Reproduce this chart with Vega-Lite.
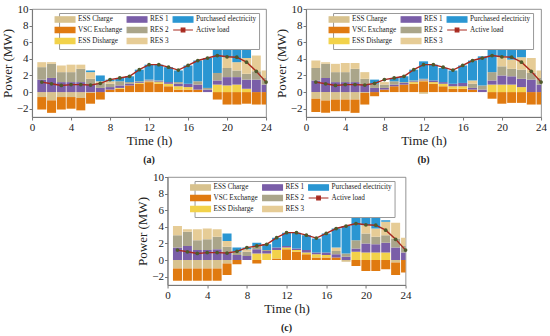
{
  "$schema": "https://vega.github.io/schema/vega-lite/v6.json",
  "padding": {"left": 0, "top": 2, "right": 0, "bottom": 2},
  "background": "white",
  "config": {
    "font": "Liberation Serif",
    "view": {"stroke": "#777", "strokeWidth": 0.8},
    "axis": {"labelFont": "Liberation Serif", "labelFontSize": 11, "titleFont": "Liberation Serif", "titleFontSize": 13, "titleFontWeight": "normal", "labelColor": "#222", "titleColor": "#222", "domainColor": "#777", "tickColor": "#777", "tickSize": 3, "labelPadding": 1, "titlePadding": 2, "grid": false, "labelOverlap": false, "labelFlush": false, "labelBound": false},
    "axisX": {"labelOverlap": false},
    "axisY": {"labelOverlap": false},
    "title": {"font": "Liberation Serif", "fontSize": 10, "fontWeight": "bold", "color": "#222"},
    "legend": {"orient": "none", "legendX": 27, "legendY": 4, "direction": "horizontal", "columns": 3, "gridAlign": "each", "fillColor": "white", "strokeColor": "#999", "padding": 2, "labelFont": "Liberation Serif", "labelFontSize": 7.2, "labelColor": "#222", "symbolSize": 36, "rowPadding": -1, "columnPadding": 1, "labelOffset": 9, "title": null}
  },
  "datasets": {
    "d": [
      {"p":"a","h":1,"ESS Charge":-0.6,"VSC Exchange":-1.5,"ESS Disharge":0,"RES 1":1.5,"RES 2":1.5,"RES 3":0.6,"Purchased electricity":0,"L":1.2},
      {"p":"a","h":2,"ESS Charge":-1.0,"VSC Exchange":-1.5,"ESS Disharge":0,"RES 1":1.7,"RES 2":1.7,"RES 3":0.2,"Purchased electricity":0,"L":1.0},
      {"p":"a","h":3,"ESS Charge":-0.6,"VSC Exchange":-1.5,"ESS Disharge":0,"RES 1":1.2,"RES 2":1.2,"RES 3":0.8,"Purchased electricity":0,"L":0.8},
      {"p":"a","h":4,"ESS Charge":-0.6,"VSC Exchange":-1.4,"ESS Disharge":0,"RES 1":1.2,"RES 2":1.2,"RES 3":0.9,"Purchased electricity":0,"L":0.9},
      {"p":"a","h":5,"ESS Charge":-0.7,"VSC Exchange":-1.5,"ESS Disharge":0,"RES 1":1.2,"RES 2":1.6,"RES 3":0.5,"Purchased electricity":0,"L":0.9},
      {"p":"a","h":6,"ESS Charge":-0.1,"VSC Exchange":-1.3,"ESS Disharge":0,"RES 1":0.9,"RES 2":0.7,"RES 3":0.8,"Purchased electricity":0.2,"L":0.85},
      {"p":"a","h":7,"ESS Charge":0,"VSC Exchange":-0.9,"ESS Disharge":0,"RES 1":0.5,"RES 2":0.6,"RES 3":0.2,"Purchased electricity":0.7,"L":1.05},
      {"p":"a","h":8,"ESS Charge":0,"VSC Exchange":0.3,"ESS Disharge":0,"RES 1":0.3,"RES 2":0.4,"RES 3":0.3,"Purchased electricity":0.2,"L":1.5},
      {"p":"a","h":9,"ESS Charge":0,"VSC Exchange":0.4,"ESS Disharge":0.1,"RES 1":0.3,"RES 2":0.5,"RES 3":0,"Purchased electricity":0.4,"L":1.7},
      {"p":"a","h":10,"ESS Charge":0,"VSC Exchange":0.8,"ESS Disharge":0,"RES 1":0.2,"RES 2":0.2,"RES 3":0,"Purchased electricity":0.7,"L":1.9},
      {"p":"a","h":11,"ESS Charge":0,"VSC Exchange":1.0,"ESS Disharge":0.1,"RES 1":0.1,"RES 2":0.1,"RES 3":0,"Purchased electricity":1.4,"L":2.7},
      {"p":"a","h":12,"ESS Charge":0,"VSC Exchange":1.2,"ESS Disharge":0.1,"RES 1":0.1,"RES 2":0.1,"RES 3":0,"Purchased electricity":1.8,"L":3.3},
      {"p":"a","h":13,"ESS Charge":0,"VSC Exchange":1.0,"ESS Disharge":0.2,"RES 1":0.1,"RES 2":0.1,"RES 3":0,"Purchased electricity":1.9,"L":3.3},
      {"p":"a","h":14,"ESS Charge":0,"VSC Exchange":0.7,"ESS Disharge":0.3,"RES 1":0.2,"RES 2":0,"RES 3":0,"Purchased electricity":1.8,"L":3.0},
      {"p":"a","h":15,"ESS Charge":0,"VSC Exchange":0.3,"ESS Disharge":0.4,"RES 1":0.3,"RES 2":0.2,"RES 3":0,"Purchased electricity":1.4,"L":2.65},
      {"p":"a","h":16,"ESS Charge":0,"VSC Exchange":0.3,"ESS Disharge":0.3,"RES 1":0.4,"RES 2":0,"RES 3":0,"Purchased electricity":2.2,"L":3.2},
      {"p":"a","h":17,"ESS Charge":0,"VSC Exchange":0.3,"ESS Disharge":0,"RES 1":0.6,"RES 2":0.4,"RES 3":0,"Purchased electricity":2.5,"L":3.8},
      {"p":"a","h":18,"ESS Charge":0,"VSC Exchange":0,"ESS Disharge":0,"RES 1":0.3,"RES 2":0.2,"RES 3":0,"Purchased electricity":3.6,"L":4.1},
      {"p":"a","h":19,"ESS Charge":0,"VSC Exchange":-0.9,"ESS Disharge":0.9,"RES 1":0.5,"RES 2":0.9,"RES 3":0,"Purchased electricity":3.2,"L":4.4},
      {"p":"a","h":20,"ESS Charge":0,"VSC Exchange":-1.5,"ESS Disharge":0.8,"RES 1":1.0,"RES 2":1.1,"RES 3":1.3,"Purchased electricity":1.6,"L":4.25},
      {"p":"a","h":21,"ESS Charge":0,"VSC Exchange":-1.5,"ESS Disharge":0.9,"RES 1":0.9,"RES 2":0.8,"RES 3":1.0,"Purchased electricity":2.1,"L":4.2},
      {"p":"a","h":22,"ESS Charge":0,"VSC Exchange":-1.4,"ESS Disharge":0.4,"RES 1":1.1,"RES 2":0.7,"RES 3":1.9,"Purchased electricity":1.0,"L":3.6},
      {"p":"a","h":23,"ESS Charge":0,"VSC Exchange":-1.5,"ESS Disharge":0,"RES 1":1.5,"RES 2":1.0,"RES 3":1.9,"Purchased electricity":0,"L":2.5},
      {"p":"a","h":24,"ESS Charge":0,"VSC Exchange":-1.5,"ESS Disharge":0,"RES 1":0.9,"RES 2":0.8,"RES 3":0.9,"Purchased electricity":0,"L":1.2},

      {"p":"b","h":1,"ESS Charge":-0.8,"VSC Exchange":-1.6,"ESS Disharge":0,"RES 1":1.4,"RES 2":1.5,"RES 3":0.9,"Purchased electricity":0,"L":1.2},
      {"p":"b","h":2,"ESS Charge":-1.0,"VSC Exchange":-1.5,"ESS Disharge":0,"RES 1":1.7,"RES 2":1.7,"RES 3":0.2,"Purchased electricity":0,"L":1.0},
      {"p":"b","h":3,"ESS Charge":-0.9,"VSC Exchange":-1.4,"ESS Disharge":0,"RES 1":1.2,"RES 2":1.2,"RES 3":1.0,"Purchased electricity":0,"L":0.8},
      {"p":"b","h":4,"ESS Charge":-0.9,"VSC Exchange":-1.4,"ESS Disharge":0,"RES 1":1.2,"RES 2":1.2,"RES 3":1.1,"Purchased electricity":0,"L":0.9},
      {"p":"b","h":5,"ESS Charge":-0.9,"VSC Exchange":-1.6,"ESS Disharge":0,"RES 1":1.2,"RES 2":1.6,"RES 3":0.7,"Purchased electricity":0,"L":0.9},
      {"p":"b","h":6,"ESS Charge":-0.1,"VSC Exchange":-1.4,"ESS Disharge":0,"RES 1":0.9,"RES 2":0.7,"RES 3":0.8,"Purchased electricity":0,"L":0.85},
      {"p":"b","h":7,"ESS Charge":0,"VSC Exchange":-0.5,"ESS Disharge":0,"RES 1":0.5,"RES 2":0.5,"RES 3":0,"Purchased electricity":0.5,"L":1.05},
      {"p":"b","h":8,"ESS Charge":0,"VSC Exchange":0.3,"ESS Disharge":0,"RES 1":0.2,"RES 2":0.4,"RES 3":0.3,"Purchased electricity":0,"L":1.5},
      {"p":"b","h":9,"ESS Charge":0,"VSC Exchange":0.7,"ESS Disharge":0,"RES 1":0.2,"RES 2":0.4,"RES 3":0,"Purchased electricity":0.4,"L":1.7},
      {"p":"b","h":10,"ESS Charge":0,"VSC Exchange":0.9,"ESS Disharge":0,"RES 1":0.2,"RES 2":0.1,"RES 3":0,"Purchased electricity":0.7,"L":1.9},
      {"p":"b","h":11,"ESS Charge":0,"VSC Exchange":1.0,"ESS Disharge":0.2,"RES 1":0.1,"RES 2":0.1,"RES 3":0,"Purchased electricity":1.3,"L":2.7},
      {"p":"b","h":12,"ESS Charge":-0.2,"VSC Exchange":1.3,"ESS Disharge":0.1,"RES 1":0.1,"RES 2":0.1,"RES 3":0,"Purchased electricity":2.1,"L":3.3},
      {"p":"b","h":13,"ESS Charge":0,"VSC Exchange":1.0,"ESS Disharge":0.2,"RES 1":0.2,"RES 2":0,"RES 3":0,"Purchased electricity":1.9,"L":3.3},
      {"p":"b","h":14,"ESS Charge":0,"VSC Exchange":0.7,"ESS Disharge":0.3,"RES 1":0.2,"RES 2":0,"RES 3":0,"Purchased electricity":1.7,"L":3.0},
      {"p":"b","h":15,"ESS Charge":0,"VSC Exchange":0.4,"ESS Disharge":0.3,"RES 1":0.3,"RES 2":0,"RES 3":0,"Purchased electricity":1.6,"L":2.65},
      {"p":"b","h":16,"ESS Charge":0,"VSC Exchange":0.4,"ESS Disharge":0.3,"RES 1":0.4,"RES 2":0,"RES 3":0,"Purchased electricity":2.1,"L":3.2},
      {"p":"b","h":17,"ESS Charge":0,"VSC Exchange":0.3,"ESS Disharge":0,"RES 1":0.2,"RES 2":0.5,"RES 3":0.4,"Purchased electricity":2.4,"L":3.8},
      {"p":"b","h":18,"ESS Charge":0,"VSC Exchange":0,"ESS Disharge":0,"RES 1":0.3,"RES 2":0.5,"RES 3":0,"Purchased electricity":3.5,"L":4.1},
      {"p":"b","h":19,"ESS Charge":0,"VSC Exchange":-0.8,"ESS Disharge":0.9,"RES 1":0.5,"RES 2":1.0,"RES 3":0,"Purchased electricity":3.1,"L":4.4},
      {"p":"b","h":20,"ESS Charge":0,"VSC Exchange":-1.4,"ESS Disharge":0.9,"RES 1":1.1,"RES 2":1.1,"RES 3":1.2,"Purchased electricity":1.5,"L":4.25},
      {"p":"b","h":21,"ESS Charge":0,"VSC Exchange":-1.3,"ESS Disharge":0.9,"RES 1":1.0,"RES 2":0.9,"RES 3":1.1,"Purchased electricity":1.8,"L":4.2},
      {"p":"b","h":22,"ESS Charge":0,"VSC Exchange":-1.3,"ESS Disharge":0.6,"RES 1":1.0,"RES 2":1.1,"RES 3":1.5,"Purchased electricity":0.9,"L":3.6},
      {"p":"b","h":23,"ESS Charge":0,"VSC Exchange":-1.5,"ESS Disharge":0,"RES 1":1.5,"RES 2":0.8,"RES 3":1.8,"Purchased electricity":0,"L":2.5},
      {"p":"b","h":24,"ESS Charge":0,"VSC Exchange":-1.5,"ESS Disharge":0,"RES 1":0.9,"RES 2":0.8,"RES 3":0.9,"Purchased electricity":0,"L":1.2},

      {"p":"c","h":1,"ESS Charge":-1.0,"VSC Exchange":-1.5,"ESS Disharge":0,"RES 1":1.5,"RES 2":1.5,"RES 3":1.1,"Purchased electricity":0,"L":1.2},
      {"p":"c","h":2,"ESS Charge":-1.0,"VSC Exchange":-1.5,"ESS Disharge":0,"RES 1":1.7,"RES 2":1.7,"RES 3":0.3,"Purchased electricity":0,"L":1.0},
      {"p":"c","h":3,"ESS Charge":-1.0,"VSC Exchange":-1.5,"ESS Disharge":0,"RES 1":1.2,"RES 2":1.2,"RES 3":1.3,"Purchased electricity":0,"L":0.8},
      {"p":"c","h":4,"ESS Charge":-1.0,"VSC Exchange":-1.5,"ESS Disharge":0,"RES 1":1.2,"RES 2":1.3,"RES 3":1.3,"Purchased electricity":0,"L":0.9},
      {"p":"c","h":5,"ESS Charge":-1.0,"VSC Exchange":-1.5,"ESS Disharge":0,"RES 1":1.3,"RES 2":1.5,"RES 3":0.9,"Purchased electricity":0,"L":0.9},
      {"p":"c","h":6,"ESS Charge":-0.4,"VSC Exchange":-1.4,"ESS Disharge":0,"RES 1":0.9,"RES 2":0.7,"RES 3":0.7,"Purchased electricity":0.9,"L":0.85},
      {"p":"c","h":7,"ESS Charge":0,"VSC Exchange":-0.5,"ESS Disharge":0,"RES 1":0.6,"RES 2":0.4,"RES 3":0,"Purchased electricity":0.5,"L":1.05},
      {"p":"c","h":8,"ESS Charge":0,"VSC Exchange":0,"ESS Disharge":0,"RES 1":0.5,"RES 2":0.5,"RES 3":0.3,"Purchased electricity":0.2,"L":1.5},
      {"p":"c","h":9,"ESS Charge":0,"VSC Exchange":-0.4,"ESS Disharge":0.8,"RES 1":0.5,"RES 2":0.4,"RES 3":0,"Purchased electricity":0.4,"L":1.7},
      {"p":"c","h":10,"ESS Charge":0,"VSC Exchange":0,"ESS Disharge":0.8,"RES 1":0.3,"RES 2":0.1,"RES 3":0,"Purchased electricity":0.7,"L":1.9},
      {"p":"c","h":11,"ESS Charge":0,"VSC Exchange":0.2,"ESS Disharge":1.0,"RES 1":0.3,"RES 2":0,"RES 3":0,"Purchased electricity":1.2,"L":2.7},
      {"p":"c","h":12,"ESS Charge":0,"VSC Exchange":1.3,"ESS Disharge":0.2,"RES 1":0.2,"RES 2":0,"RES 3":0,"Purchased electricity":1.6,"L":3.3},
      {"p":"c","h":13,"ESS Charge":0,"VSC Exchange":1.0,"ESS Disharge":0.2,"RES 1":0.2,"RES 2":0,"RES 3":0,"Purchased electricity":1.9,"L":3.3},
      {"p":"c","h":14,"ESS Charge":0,"VSC Exchange":0.7,"ESS Disharge":0.2,"RES 1":0.3,"RES 2":0,"RES 3":0,"Purchased electricity":1.8,"L":3.0},
      {"p":"c","h":15,"ESS Charge":0,"VSC Exchange":0.3,"ESS Disharge":0.4,"RES 1":0.2,"RES 2":0,"RES 3":0,"Purchased electricity":1.7,"L":2.65},
      {"p":"c","h":16,"ESS Charge":0,"VSC Exchange":0.3,"ESS Disharge":0.3,"RES 1":0.3,"RES 2":0,"RES 3":0,"Purchased electricity":2.3,"L":3.2},
      {"p":"c","h":17,"ESS Charge":0,"VSC Exchange":0.3,"ESS Disharge":0,"RES 1":0.4,"RES 2":0.4,"RES 3":0.4,"Purchased electricity":2.3,"L":3.8},
      {"p":"c","h":18,"ESS Charge":-0.2,"VSC Exchange":0,"ESS Disharge":0,"RES 1":0.4,"RES 2":0.4,"RES 3":0,"Purchased electricity":3.3,"L":4.1},
      {"p":"c","h":19,"ESS Charge":0,"VSC Exchange":-0.7,"ESS Disharge":1.0,"RES 1":0.4,"RES 2":1.0,"RES 3":0,"Purchased electricity":3.0,"L":4.4},
      {"p":"c","h":20,"ESS Charge":0,"VSC Exchange":-1.3,"ESS Disharge":0.9,"RES 1":1.1,"RES 2":1.2,"RES 3":1.0,"Purchased electricity":1.5,"L":4.25},
      {"p":"c","h":21,"ESS Charge":0,"VSC Exchange":-1.3,"ESS Disharge":0.9,"RES 1":1.0,"RES 2":0.9,"RES 3":1.0,"Purchased electricity":1.9,"L":4.2},
      {"p":"c","h":22,"ESS Charge":0,"VSC Exchange":-1.1,"ESS Disharge":0.9,"RES 1":1.2,"RES 2":0.9,"RES 3":1.6,"Purchased electricity":0.2,"L":3.6},
      {"p":"c","h":23,"ESS Charge":-0.3,"VSC Exchange":-1.5,"ESS Disharge":0,"RES 1":1.5,"RES 2":1.1,"RES 3":1.9,"Purchased electricity":0,"L":2.5},
      {"p":"c","h":24,"ESS Charge":0,"VSC Exchange":-1.5,"ESS Disharge":0,"RES 1":0.9,"RES 2":0.8,"RES 3":1.0,"Purchased electricity":0,"L":1.2}
    ]
  },
  "vconcat": [
    {
      "hconcat": [
        {
          "width": 234, "height": 108,
          "title": {"text": "(a)", "orient": "bottom", "offset": 8},
          "data": {"name": "d"},
          "transform": [
            {"filter": "datum.p === 'a'"},
            {"fold": ["ESS Charge","VSC Exchange","ESS Disharge","RES 1","RES 2","RES 3","Purchased electricity","L"], "as": ["s","v"]},
            {"calculate": "indexof(['ESS Charge','VSC Exchange','ESS Disharge','RES 1','RES 2','RES 3','Purchased electricity'], datum.s)", "as": "o"}
          ],
          "encoding": {
            "x": {"field": "h", "type": "quantitative", "title": "Time (h)", "scale": {"domain": [0, 24], "nice": false, "padding": 0}, "axis": {"values": [0,4,8,12,16,20,24], "labelOverlap": false}},
            "y": {"field": "v", "type": "quantitative", "title": "Power (MW)", "scale": {"domain": [-3, 10], "nice": false}, "axis": {"values": [-2,0,2,4,6,8,10], "labelOverlap": false}}
          },
          "layer": [
            {
              "transform": [{"filter": "datum.s !== 'L'"}],
              "mark": {"type": "bar", "size": 9, "clip": true},
              "encoding": {
                "color": {"field": "s", "type": "nominal",
                  "scale": {"domain": ["ESS Charge","RES 1","Purchased electricity","VSC Exchange","RES 2","Active load","ESS Disharge","RES 3"],
                            "range": ["#d8c28e","#7a5ea8","#2a96d2","#e07a10","#aaa58a","#a8281e","#f2d24a","#e6cc96"]},
                  "legend": {"encode": {"symbols": {"update": {
                    "shape": {"signal": "datum.value === 'Active load' ? 'M-3.3,0H3.3M-0.6,-0.6H0.6V0.6H-0.6Z' : 'M-3.3,-0.9H3.3V0.9H-3.3Z'"},
                    "stroke": {"signal": "datum.value === 'Active load' ? '#a8281e' : 'transparent'"},
                    "strokeWidth": {"value": 1.2}
                  }}}}
                },
                "order": {"field": "o", "type": "quantitative"}
              }
            },
            {
              "transform": [{"filter": "datum.s === 'L'"}],
              "mark": {"type": "line", "strokeWidth": 1.4},
              "encoding": {"color": {"datum": "Active load"}}
            },
            {
              "transform": [{"filter": "datum.s === 'L'"}],
              "mark": {"type": "point", "filled": true, "color": "#4f5a2c", "size": 14, "opacity": 1},
              "encoding": {}
            }
          ]
        },
        {
          "width": 235, "height": 108,
          "title": {"text": "(b)", "orient": "bottom", "offset": 8},
          "data": {"name": "d"},
          "transform": [
            {"filter": "datum.p === 'b'"},
            {"fold": ["ESS Charge","VSC Exchange","ESS Disharge","RES 1","RES 2","RES 3","Purchased electricity","L"], "as": ["s","v"]},
            {"calculate": "indexof(['ESS Charge','VSC Exchange','ESS Disharge','RES 1','RES 2','RES 3','Purchased electricity'], datum.s)", "as": "o"}
          ],
          "encoding": {
            "x": {"field": "h", "type": "quantitative", "title": "Time (h)", "scale": {"domain": [0, 24], "nice": false, "padding": 0}, "axis": {"values": [0,4,8,12,16,20,24], "labelOverlap": false}},
            "y": {"field": "v", "type": "quantitative", "title": "Power (MW)", "scale": {"domain": [-3, 10], "nice": false}, "axis": {"values": [-2,0,2,4,6,8,10], "labelOverlap": false}}
          },
          "layer": [
            {
              "transform": [{"filter": "datum.s !== 'L'"}],
              "mark": {"type": "bar", "size": 9, "clip": true},
              "encoding": {
                "color": {"field": "s", "type": "nominal",
                  "scale": {"domain": ["ESS Charge","RES 1","Purchased electricity","VSC Exchange","RES 2","Active load","ESS Disharge","RES 3"],
                            "range": ["#d8c28e","#7a5ea8","#2a96d2","#e07a10","#aaa58a","#a8281e","#f2d24a","#e6cc96"]},
                  "legend": {"encode": {"symbols": {"update": {
                    "shape": {"signal": "datum.value === 'Active load' ? 'M-3.3,0H3.3M-0.6,-0.6H0.6V0.6H-0.6Z' : 'M-3.3,-0.9H3.3V0.9H-3.3Z'"},
                    "stroke": {"signal": "datum.value === 'Active load' ? '#a8281e' : 'transparent'"},
                    "strokeWidth": {"value": 1.2}
                  }}}}
                },
                "order": {"field": "o", "type": "quantitative"}
              }
            },
            {
              "transform": [{"filter": "datum.s === 'L'"}],
              "mark": {"type": "line", "strokeWidth": 1.4},
              "encoding": {"color": {"datum": "Active load"}}
            },
            {
              "transform": [{"filter": "datum.s === 'L'"}],
              "mark": {"type": "point", "filled": true, "color": "#4f5a2c", "size": 14, "opacity": 1},
              "encoding": {}
            }
          ]
        }
      ],
      "spacing": 2,
      "resolve": {"legend": {"color": "independent"}}
    },
    {
      "width": 238, "height": 108,
      "title": {"text": "(c)", "orient": "bottom", "offset": 8},
      "data": {"name": "d"},
      "transform": [
        {"filter": "datum.p === 'c'"},
        {"fold": ["ESS Charge","VSC Exchange","ESS Disharge","RES 1","RES 2","RES 3","Purchased electricity","L"], "as": ["s","v"]},
        {"calculate": "indexof(['ESS Charge','VSC Exchange','ESS Disharge','RES 1','RES 2','RES 3','Purchased electricity'], datum.s)", "as": "o"}
      ],
      "encoding": {
        "x": {"field": "h", "type": "quantitative", "title": "Time (h)", "scale": {"domain": [0, 24], "nice": false, "padding": 0}, "axis": {"values": [0,4,8,12,16,20,24], "labelOverlap": false}},
        "y": {"field": "v", "type": "quantitative", "title": "Power (MW)", "scale": {"domain": [-3, 10], "nice": false}, "axis": {"values": [-2,0,2,4,6,8,10], "labelOverlap": false}}
      },
      "layer": [
        {
          "transform": [{"filter": "datum.s !== 'L'"}],
          "mark": {"type": "bar", "size": 9, "clip": true},
          "encoding": {
            "color": {"field": "s", "type": "nominal",
              "scale": {"domain": ["ESS Charge","RES 1","Purchased electricity","VSC Exchange","RES 2","Active load","ESS Disharge","RES 3"],
                        "range": ["#d8c28e","#7a5ea8","#2a96d2","#e07a10","#aaa58a","#a8281e","#f2d24a","#e6cc96"]},
              "legend": {"encode": {"symbols": {"update": {
                "shape": {"signal": "datum.value === 'Active load' ? 'M-3.3,0H3.3M-0.6,-0.6H0.6V0.6H-0.6Z' : 'M-3.3,-0.9H3.3V0.9H-3.3Z'"},
                "stroke": {"signal": "datum.value === 'Active load' ? '#a8281e' : 'transparent'"},
                "strokeWidth": {"value": 1.2}
              }}}}
            },
            "order": {"field": "o", "type": "quantitative"}
          }
        },
        {
          "transform": [{"filter": "datum.s === 'L'"}],
          "mark": {"type": "line", "strokeWidth": 1.4},
          "encoding": {"color": {"datum": "Active load"}}
        },
        {
          "transform": [{"filter": "datum.s === 'L'"}],
          "mark": {"type": "point", "filled": true, "color": "#4f5a2c", "size": 14, "opacity": 1},
          "encoding": {}
        }
      ]
    }
  ],
  "spacing": 4,
  "center": true,
  "resolve": {"legend": {"color": "independent"}}
}
